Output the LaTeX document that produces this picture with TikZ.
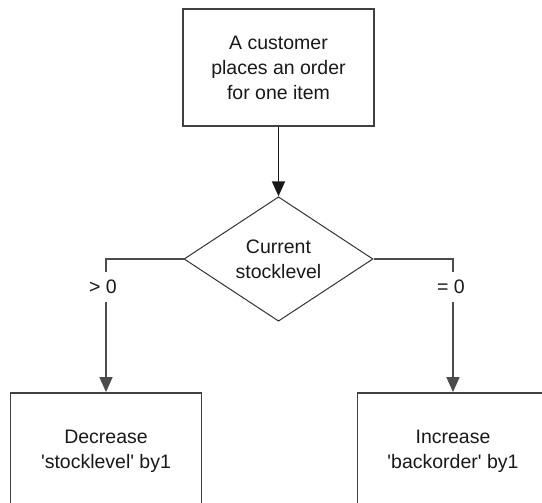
\documentclass[tikz,border=0pt]{standalone}
\usepackage{fontspec}
\setmainfont{Liberation Sans}
\usetikzlibrary{shapes.geometric,arrows.meta}
\begin{document}
\begin{tikzpicture}[x=1pt,y=-1pt,
  txt/.style={font=\fontsize{19.5}{25}\selectfont, text=black!90},
  box/.style={txt, draw=black!75, line width=1.8pt, rectangle, align=center, inner sep=0pt,
              minimum width=191pt, minimum height=117pt},
  dec/.style={txt, draw=black!80, line width=1pt, shape=diamond, minimum width=189pt,
              minimum height=118pt, inner sep=0pt, align=center},
  arr/.style={line width=1.8pt, draw=black!90, -{Triangle[length=15pt,width=13pt]}},
  branch/.style={line width=1.5pt, draw=black!70, -{Triangle[length=15pt,width=13pt]}},
  lbl/.style={txt, fill=white, inner sep=1pt, minimum height=30pt}
]
\useasboundingbox (0,0) rectangle (542,503);
\clip (0,0) rectangle (542,503);
\fill[white] (0,0) rectangle (542,503);

\node[box] (top) at (278.5,67.5) {A customer\\places an order\\for one item};
\node[dec] (dia) at (278.5,259) {Current\\stocklevel};
\node[box] (dl) at (106,451.5) {Decrease\\\textquotesingle stocklevel\textquotesingle\ by1};
\node[box] (dr) at (453,451.5) {Increase\\\textquotesingle backorder\textquotesingle\ by1};

\draw[arr] (top.south) -- (dia.north);
\draw[branch] (dia.west) -| node[lbl, pos=0.605, xshift=-3pt] {> 0} (dl.north);
\draw[branch] (dia.east) -| node[lbl, pos=0.605, xshift=-2pt] {= 0} (dr.north);
\end{tikzpicture}
\end{document}
